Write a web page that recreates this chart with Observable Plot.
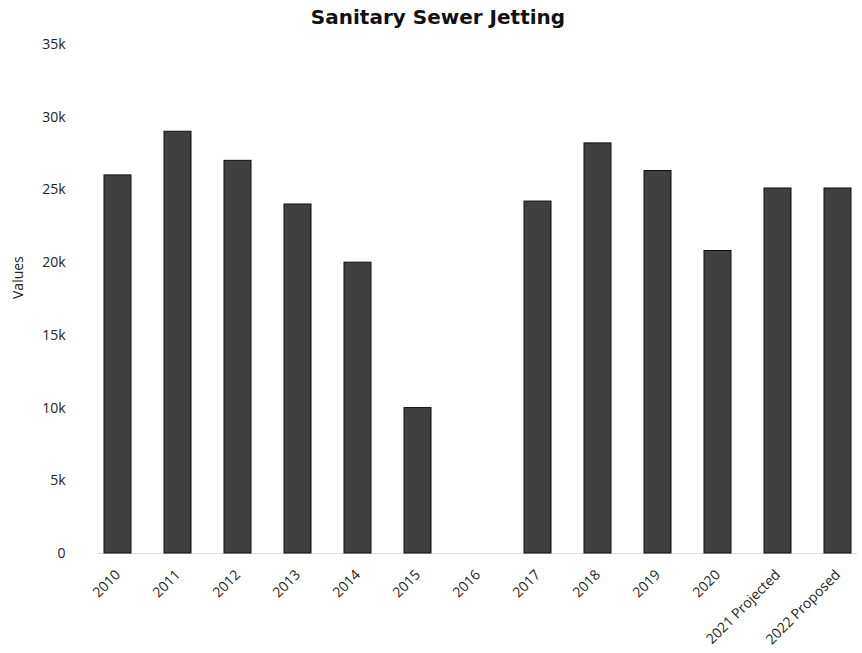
<!DOCTYPE html>
<html>
<head>
<meta charset="utf-8">
<script src="https://cdn.jsdelivr.net/npm/d3@7"></script>
<script src="https://cdn.jsdelivr.net/npm/@observablehq/plot@0.6"></script>
<style>
  html, body { margin: 0; padding: 0; background: #fff; }
  #title { height: 34px; margin: 0; padding-top: 5px; box-sizing: border-box; text-align: center;
    font-family: "DejaVu Sans", sans-serif; font-weight: 700; font-size: 20px; color: #111; padding-left: 14px; }
</style>
</head>
<body>
<div id="title">Sanitary Sewer Jetting</div>
<div id="chart"></div>
<script>
const categories = ["2010","2011","2012","2013","2014","2015","2016","2017","2018","2019","2020","2021 Projected","2022 Proposed"];
const values = [26000, 29000, 27000, 24000, 20000, 10000, null, 24200, 28200, 26300, 20800, 25100, 25100];
const yTicks = [0, 5000, 10000, 15000, 20000, 25000, 30000, 35000];
const yTickLabels = ["0", "5k", "10k", "15k", "20k", "25k", "30k", "35k"];
const yLabel = "Values";

const data = categories.map((c, i) => ({category: c, value: values[i]}));

const chart = Plot.plot({
  width: 862,
  height: 619,
  marginTop: 10,
  marginBottom: 100,
  marginLeft: 98,
  marginRight: 5,
  style: {fontFamily: "'Open Sans', sans-serif", fontSize: "14px", color: "#222"},
  x: {domain: categories, padding: 0.55, paddingOuter: 0.1, label: null},
  y: {domain: [0, 35000], label: null},
  marks: [
    Plot.ruleY([0], {stroke: "#ddd"}),
    Plot.barY(data.filter(d => d.value != null), {x: "category", y: "value", fill: "#404040", stroke: "#111", strokeWidth: 1}),
    Plot.axisX({tickSize: 0, tickPadding: 19, tickRotate: -45, fontSize: 14, label: null}),
    Plot.axisY({ticks: yTicks, tickFormat: (d) => yTickLabels[yTicks.indexOf(d)], tickSize: 0, tickPadding: 33, fontSize: 14, label: null}),
    Plot.text([yLabel], {frameAnchor: "left", rotate: -90, dx: -80, fontSize: 14, fill: "#222", text: d => d})
  ]
});
document.getElementById("chart").appendChild(chart);
</script>
</body>
</html>
